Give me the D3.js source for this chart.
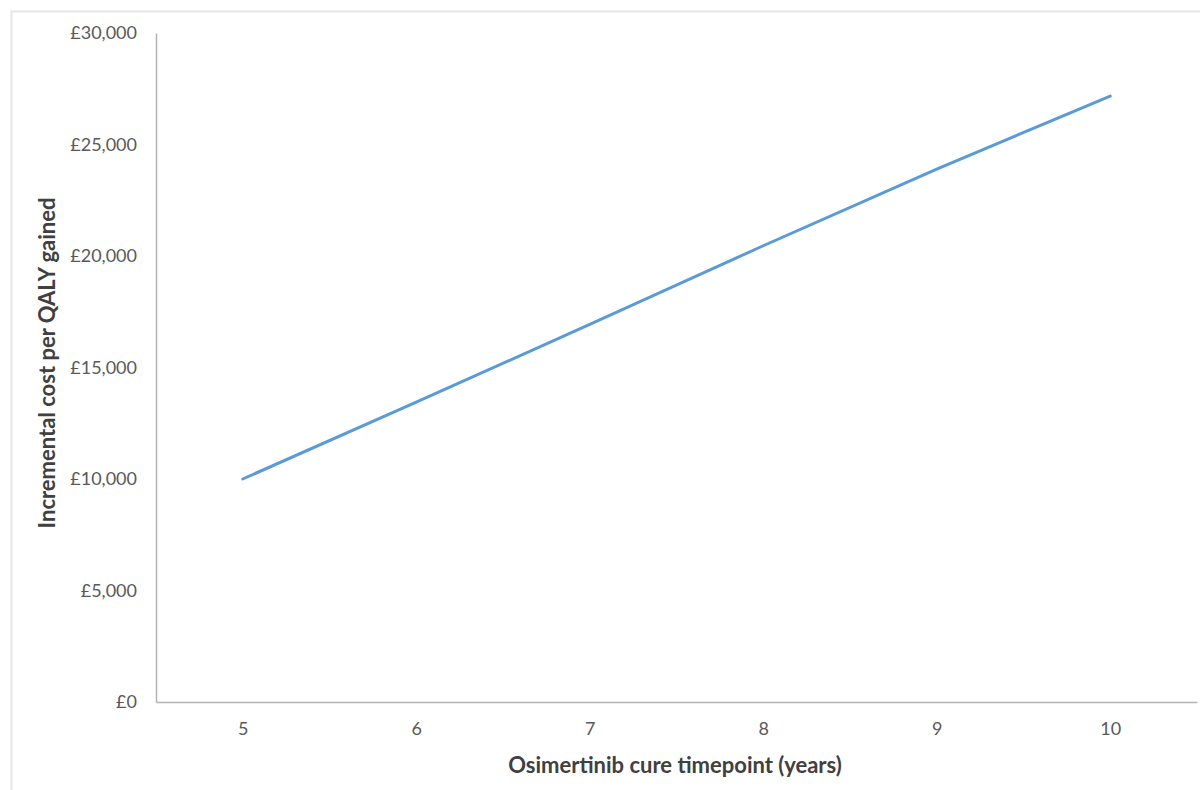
<!DOCTYPE html>
<html>
<head>
<meta charset="utf-8">
<script src="https://cdn.jsdelivr.net/npm/d3@7"></script>
<style>
  html, body { margin: 0; padding: 0; background: #fff; }
  svg { display: block; }
</style>
</head>
<body>
<svg id="chart" width="1200" height="790"></svg>
<script>
const categories = ["5", "6", "7", "8", "9", "10"];
const icerValues = [10000, 13450, 16930, 20460, 23900, 27170];
const yTicks = [0, 5000, 10000, 15000, 20000, 25000, 30000];
const xTitle = "Osimertinib cure timepoint (years)";
const yTitle = "Incremental cost per QALY gained";

const svg = d3.select("#chart");
const W = 1200, H = 790;
const m = { left: 156, right: 3, top: 33, bottom: 88 };

svg.append("rect")
  .attr("x", 11.5).attr("y", 11.5)
  .attr("width", W).attr("height", H)
  .attr("fill", "#fff").attr("stroke", "#e6e6e6").attr("stroke-width", 2);

const x = d3.scalePoint().domain(categories).range([m.left, W - m.right]).padding(0.5);
const y = d3.scaleLinear().domain([0, 30000]).range([H - m.bottom, m.top]);

const font = "Lato, 'Open Sans', sans-serif";
const fmt = d => "£" + d3.format(",")(d);

const yAxis = svg.append("g")
  .attr("transform", `translate(${m.left},0)`)
  .call(d3.axisLeft(y).tickValues(yTicks).tickFormat(fmt).tickSize(0).tickPadding(19));
yAxis.select(".domain").attr("stroke", "#b3b3b3").attr("stroke-width", 1.5);
yAxis.selectAll("text").attr("font-family", font).attr("font-size", 18).attr("fill", "#595959");

const xAxis = svg.append("g")
  .attr("transform", `translate(0,${H - m.bottom})`)
  .call(d3.axisBottom(x).tickSize(0).tickPadding(20));
xAxis.select(".domain").attr("stroke", "#b3b3b3").attr("stroke-width", 1.5);
xAxis.selectAll("text").attr("font-family", font).attr("font-size", 18).attr("fill", "#595959");

const line = d3.line().x((d, i) => x(categories[i])).y(d => y(d));
svg.append("path")
  .datum(icerValues)
  .attr("d", line)
  .attr("fill", "none")
  .attr("stroke", "#5B9BD5")
  .attr("stroke-width", 3)
  .attr("stroke-linecap", "round");

svg.append("text")
  .attr("x", 675).attr("y", 773)
  .attr("text-anchor", "middle")
  .attr("font-family", font).attr("font-weight", "bold").attr("font-size", 22)
  .attr("fill", "#404040")
  .text(xTitle);

svg.append("text")
  .attr("transform", "translate(55,363) rotate(-90)")
  .attr("text-anchor", "middle")
  .attr("font-family", font).attr("font-weight", "bold").attr("font-size", 22)
  .attr("fill", "#404040")
  .text(yTitle);
</script>
</body>
</html>
